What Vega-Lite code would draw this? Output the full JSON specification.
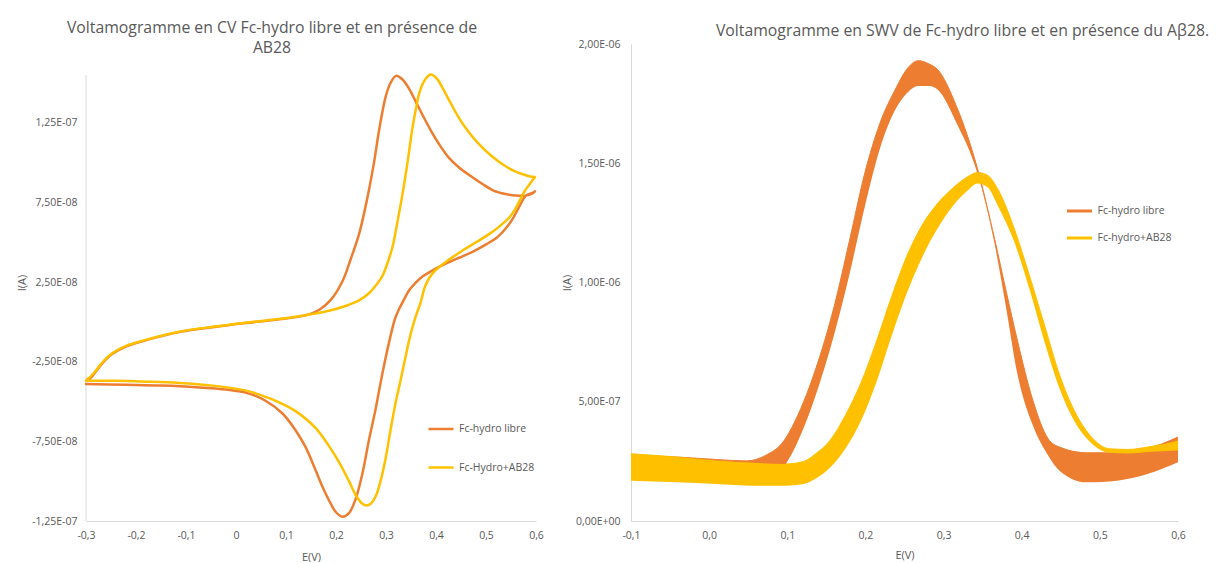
{
  "$schema": "https://vega.github.io/schema/vega-lite/v6.json",
  "background": "white",
  "padding": {"left": 16, "top": 19, "right": 0, "bottom": 0},
  "spacing": 17,
  "config": {
    "view": {"stroke": null},
    "font": "Open Sans",
    "axis": {"grid": false, "ticks": false, "domainColor": "#d9d9d9", "labelColor": "#595959", "labelFontSize": 10.5, "titleColor": "#595959", "titleFontSize": 11, "titleFontWeight": "normal", "labelFont": "Open Sans", "titleFont": "Open Sans", "labelFlush": false},
    "title": {"font": "Open Sans", "fontSize": 15.8, "fontWeight": "normal", "color": "#595959"}
  },
  "resolve": {"scale": {"color": "independent", "stroke": "independent", "fill": "independent", "x": "independent", "y": "independent"}, "legend": {"color": "independent", "stroke": "independent"}},
  "hconcat": [
    {
      "width": 450,
      "height": 477,
      "title": {"text": ["Voltamogramme en CV Fc-hydro libre et en présence de", "AB28"], "offset": -12.5, "dx": -39, "lineHeight": 20},
      "layer": [
        {
          "data": {"values": [{"E": -0.3, "I": -1.25e-7, "I2": 1.55e-7}]},
          "mark": {"type": "rule", "color": "#d9d9d9", "strokeWidth": 1},
          "encoding": {
            "x": {"field": "E", "type": "quantitative", "title": "E(V)", "scale": {"domain": [-0.3, 0.6], "nice": false, "zero": false}},
            "y": {"field": "I", "type": "quantitative", "title": "I(A)", "scale": {"domain": [-1.25e-7, 1.745e-7], "nice": false, "zero": false}},
            "y2": {"field": "I2"}
          }
        },
        {
          "data": {"values": [
            {"s":"Fc-hydro libre","k":1,"E":-0.298,"I":-3.7e-8},
            {"s":"Fc-hydro libre","k":2,"E":-0.29,"I":-3.5e-8},
            {"s":"Fc-hydro libre","k":3,"E":-0.28,"I":-3.1e-8},
            {"s":"Fc-hydro libre","k":4,"E":-0.27,"I":-2.7e-8},
            {"s":"Fc-hydro libre","k":5,"E":-0.26,"I":-2.35e-8},
            {"s":"Fc-hydro libre","k":6,"E":-0.247,"I":-2.0e-8},
            {"s":"Fc-hydro libre","k":7,"E":-0.22,"I":-1.55e-8},
            {"s":"Fc-hydro libre","k":8,"E":-0.181,"I":-1.16e-8},
            {"s":"Fc-hydro libre","k":9,"E":-0.114,"I":-6.4e-9},
            {"s":"Fc-hydro libre","k":10,"E":-0.047,"I":-3.3e-9},
            {"s":"Fc-hydro libre","k":11,"E":0.019,"I":-7e-10},
            {"s":"Fc-hydro libre","k":12,"E":0.086,"I":1.6e-9},
            {"s":"Fc-hydro libre","k":13,"E":0.139,"I":4.1e-9},
            {"s":"Fc-hydro libre","k":14,"E":0.166,"I":7.5e-9},
            {"s":"Fc-hydro libre","k":15,"E":0.19,"I":1.4e-8},
            {"s":"Fc-hydro libre","k":16,"E":0.213,"I":2.55e-8},
            {"s":"Fc-hydro libre","k":17,"E":0.23,"I":4.0e-8},
            {"s":"Fc-hydro libre","k":18,"E":0.246,"I":5.5e-8},
            {"s":"Fc-hydro libre","k":19,"E":0.256,"I":6.8e-8},
            {"s":"Fc-hydro libre","k":20,"E":0.266,"I":8.3e-8},
            {"s":"Fc-hydro libre","k":21,"E":0.276,"I":1.0e-7},
            {"s":"Fc-hydro libre","k":22,"E":0.286,"I":1.2e-7},
            {"s":"Fc-hydro libre","k":23,"E":0.299,"I":1.41e-7},
            {"s":"Fc-hydro libre","k":24,"E":0.309,"I":1.5e-7},
            {"s":"Fc-hydro libre","k":25,"E":0.32,"I":1.545e-7},
            {"s":"Fc-hydro libre","k":26,"E":0.332,"I":1.525e-7},
            {"s":"Fc-hydro libre","k":27,"E":0.346,"I":1.465e-7},
            {"s":"Fc-hydro libre","k":28,"E":0.36,"I":1.38e-7},
            {"s":"Fc-hydro libre","k":29,"E":0.373,"I":1.3e-7},
            {"s":"Fc-hydro libre","k":30,"E":0.39,"I":1.2e-7},
            {"s":"Fc-hydro libre","k":31,"E":0.406,"I":1.117e-7},
            {"s":"Fc-hydro libre","k":32,"E":0.426,"I":1.03e-7},
            {"s":"Fc-hydro libre","k":33,"E":0.446,"I":9.7e-8},
            {"s":"Fc-hydro libre","k":34,"E":0.47,"I":9.15e-8},
            {"s":"Fc-hydro libre","k":35,"E":0.493,"I":8.66e-8},
            {"s":"Fc-hydro libre","k":36,"E":0.515,"I":8.25e-8},
            {"s":"Fc-hydro libre","k":37,"E":0.539,"I":8.03e-8},
            {"s":"Fc-hydro libre","k":38,"E":0.56,"I":7.93e-8},
            {"s":"Fc-hydro libre","k":39,"E":0.579,"I":7.93e-8},
            {"s":"Fc-hydro libre","k":40,"E":0.592,"I":8.05e-8},
            {"s":"Fc-hydro libre","k":41,"E":0.598,"I":8.2e-8},
            {"s":"Fc-hydro libre","k":42,"E":0.593,"I":8.1e-8},
            {"s":"Fc-hydro libre","k":43,"E":0.579,"I":7.9e-8},
            {"s":"Fc-hydro libre","k":44,"E":0.566,"I":7.2e-8},
            {"s":"Fc-hydro libre","k":45,"E":0.553,"I":6.45e-8},
            {"s":"Fc-hydro libre","k":46,"E":0.539,"I":5.85e-8},
            {"s":"Fc-hydro libre","k":47,"E":0.52,"I":5.25e-8},
            {"s":"Fc-hydro libre","k":48,"E":0.499,"I":4.85e-8},
            {"s":"Fc-hydro libre","k":49,"E":0.473,"I":4.4e-8},
            {"s":"Fc-hydro libre","k":50,"E":0.446,"I":4.03e-8},
            {"s":"Fc-hydro libre","k":51,"E":0.426,"I":3.75e-8},
            {"s":"Fc-hydro libre","k":52,"E":0.406,"I":3.45e-8},
            {"s":"Fc-hydro libre","k":53,"E":0.39,"I":3.18e-8},
            {"s":"Fc-hydro libre","k":54,"E":0.373,"I":2.85e-8},
            {"s":"Fc-hydro libre","k":55,"E":0.359,"I":2.45e-8},
            {"s":"Fc-hydro libre","k":56,"E":0.346,"I":1.97e-8},
            {"s":"Fc-hydro libre","k":57,"E":0.336,"I":1.4e-8},
            {"s":"Fc-hydro libre","k":58,"E":0.326,"I":8.0e-9},
            {"s":"Fc-hydro libre","k":59,"E":0.318,"I":2.0e-9},
            {"s":"Fc-hydro libre","k":60,"E":0.306,"I":-1.3e-8},
            {"s":"Fc-hydro libre","k":61,"E":0.293,"I":-3.2e-8},
            {"s":"Fc-hydro libre","k":62,"E":0.279,"I":-5.5e-8},
            {"s":"Fc-hydro libre","k":63,"E":0.266,"I":-7.4e-8},
            {"s":"Fc-hydro libre","k":64,"E":0.253,"I":-9.5e-8},
            {"s":"Fc-hydro libre","k":65,"E":0.239,"I":-1.115e-7},
            {"s":"Fc-hydro libre","k":66,"E":0.226,"I":-1.2e-7},
            {"s":"Fc-hydro libre","k":67,"E":0.213,"I":-1.223e-7},
            {"s":"Fc-hydro libre","k":68,"E":0.2,"I":-1.195e-7},
            {"s":"Fc-hydro libre","k":69,"E":0.186,"I":-1.12e-7},
            {"s":"Fc-hydro libre","k":70,"E":0.173,"I":-1.035e-7},
            {"s":"Fc-hydro libre","k":71,"E":0.159,"I":-9.3e-8},
            {"s":"Fc-hydro libre","k":72,"E":0.139,"I":-7.85e-8},
            {"s":"Fc-hydro libre","k":73,"E":0.119,"I":-6.8e-8},
            {"s":"Fc-hydro libre","k":74,"E":0.093,"I":-5.75e-8},
            {"s":"Fc-hydro libre","k":75,"E":0.059,"I":-4.95e-8},
            {"s":"Fc-hydro libre","k":76,"E":0.026,"I":-4.5e-8},
            {"s":"Fc-hydro libre","k":77,"E":-0.02,"I":-4.25e-8},
            {"s":"Fc-hydro libre","k":78,"E":-0.08,"I":-4.1e-8},
            {"s":"Fc-hydro libre","k":79,"E":-0.15,"I":-4.0e-8},
            {"s":"Fc-hydro libre","k":80,"E":-0.22,"I":-3.95e-8},
            {"s":"Fc-hydro libre","k":81,"E":-0.3,"I":-3.9e-8},
            {"s":"Fc-Hydro+AB28","k":1,"E":-0.298,"I":-3.6e-8},
            {"s":"Fc-Hydro+AB28","k":2,"E":-0.29,"I":-3.4e-8},
            {"s":"Fc-Hydro+AB28","k":3,"E":-0.28,"I":-3.05e-8},
            {"s":"Fc-Hydro+AB28","k":4,"E":-0.27,"I":-2.65e-8},
            {"s":"Fc-Hydro+AB28","k":5,"E":-0.26,"I":-2.3e-8},
            {"s":"Fc-Hydro+AB28","k":6,"E":-0.247,"I":-1.95e-8},
            {"s":"Fc-Hydro+AB28","k":7,"E":-0.22,"I":-1.5e-8},
            {"s":"Fc-Hydro+AB28","k":8,"E":-0.181,"I":-1.13e-8},
            {"s":"Fc-Hydro+AB28","k":9,"E":-0.114,"I":-6.2e-9},
            {"s":"Fc-Hydro+AB28","k":10,"E":-0.047,"I":-3.1e-9},
            {"s":"Fc-Hydro+AB28","k":11,"E":0.019,"I":-5e-10},
            {"s":"Fc-Hydro+AB28","k":12,"E":0.086,"I":1.8e-9},
            {"s":"Fc-Hydro+AB28","k":13,"E":0.12,"I":3.3e-9},
            {"s":"Fc-Hydro+AB28","k":14,"E":0.153,"I":5.0e-9},
            {"s":"Fc-Hydro+AB28","k":15,"E":0.186,"I":7.0e-9},
            {"s":"Fc-Hydro+AB28","k":16,"E":0.219,"I":1.0e-8},
            {"s":"Fc-Hydro+AB28","k":17,"E":0.246,"I":1.35e-8},
            {"s":"Fc-Hydro+AB28","k":18,"E":0.266,"I":1.8e-8},
            {"s":"Fc-Hydro+AB28","k":19,"E":0.28,"I":2.3e-8},
            {"s":"Fc-Hydro+AB28","k":20,"E":0.293,"I":2.9e-8},
            {"s":"Fc-Hydro+AB28","k":21,"E":0.303,"I":3.7e-8},
            {"s":"Fc-Hydro+AB28","k":22,"E":0.313,"I":4.7e-8},
            {"s":"Fc-Hydro+AB28","k":23,"E":0.323,"I":6.3e-8},
            {"s":"Fc-Hydro+AB28","k":24,"E":0.333,"I":8.03e-8},
            {"s":"Fc-Hydro+AB28","k":25,"E":0.343,"I":1.0e-7},
            {"s":"Fc-Hydro+AB28","k":26,"E":0.353,"I":1.22e-7},
            {"s":"Fc-Hydro+AB28","k":27,"E":0.36,"I":1.34e-7},
            {"s":"Fc-Hydro+AB28","k":28,"E":0.366,"I":1.43e-7},
            {"s":"Fc-Hydro+AB28","k":29,"E":0.376,"I":1.51e-7},
            {"s":"Fc-Hydro+AB28","k":30,"E":0.389,"I":1.553e-7},
            {"s":"Fc-Hydro+AB28","k":31,"E":0.401,"I":1.53e-7},
            {"s":"Fc-Hydro+AB28","k":32,"E":0.413,"I":1.47e-7},
            {"s":"Fc-Hydro+AB28","k":33,"E":0.43,"I":1.37e-7},
            {"s":"Fc-Hydro+AB28","k":34,"E":0.446,"I":1.28e-7},
            {"s":"Fc-Hydro+AB28","k":35,"E":0.466,"I":1.19e-7},
            {"s":"Fc-Hydro+AB28","k":36,"E":0.486,"I":1.117e-7},
            {"s":"Fc-Hydro+AB28","k":37,"E":0.51,"I":1.045e-7},
            {"s":"Fc-Hydro+AB28","k":38,"E":0.533,"I":9.9e-8},
            {"s":"Fc-Hydro+AB28","k":39,"E":0.555,"I":9.5e-8},
            {"s":"Fc-Hydro+AB28","k":40,"E":0.573,"I":9.28e-8},
            {"s":"Fc-Hydro+AB28","k":41,"E":0.588,"I":9.13e-8},
            {"s":"Fc-Hydro+AB28","k":42,"E":0.598,"I":9.1e-8},
            {"s":"Fc-Hydro+AB28","k":43,"E":0.593,"I":8.9e-8},
            {"s":"Fc-Hydro+AB28","k":44,"E":0.586,"I":8.6e-8},
            {"s":"Fc-Hydro+AB28","k":45,"E":0.577,"I":8.2e-8},
            {"s":"Fc-Hydro+AB28","k":46,"E":0.567,"I":7.6e-8},
            {"s":"Fc-Hydro+AB28","k":47,"E":0.557,"I":7.0e-8},
            {"s":"Fc-Hydro+AB28","k":48,"E":0.547,"I":6.57e-8},
            {"s":"Fc-Hydro+AB28","k":49,"E":0.527,"I":6.0e-8},
            {"s":"Fc-Hydro+AB28","k":50,"E":0.507,"I":5.53e-8},
            {"s":"Fc-Hydro+AB28","k":51,"E":0.48,"I":5.0e-8},
            {"s":"Fc-Hydro+AB28","k":52,"E":0.453,"I":4.48e-8},
            {"s":"Fc-Hydro+AB28","k":53,"E":0.419,"I":3.75e-8},
            {"s":"Fc-Hydro+AB28","k":54,"E":0.393,"I":3.05e-8},
            {"s":"Fc-Hydro+AB28","k":55,"E":0.379,"I":2.3e-8},
            {"s":"Fc-Hydro+AB28","k":56,"E":0.369,"I":1.2e-8},
            {"s":"Fc-Hydro+AB28","k":57,"E":0.359,"I":3.0e-9},
            {"s":"Fc-Hydro+AB28","k":58,"E":0.349,"I":-8.0e-9},
            {"s":"Fc-Hydro+AB28","k":59,"E":0.339,"I":-2.2e-8},
            {"s":"Fc-Hydro+AB28","k":60,"E":0.329,"I":-3.7e-8},
            {"s":"Fc-Hydro+AB28","k":61,"E":0.319,"I":-5.1e-8},
            {"s":"Fc-Hydro+AB28","k":62,"E":0.309,"I":-6.8e-8},
            {"s":"Fc-Hydro+AB28","k":63,"E":0.299,"I":-8.6e-8},
            {"s":"Fc-Hydro+AB28","k":64,"E":0.289,"I":-1.0e-7},
            {"s":"Fc-Hydro+AB28","k":65,"E":0.28,"I":-1.09e-7},
            {"s":"Fc-Hydro+AB28","k":66,"E":0.27,"I":-1.14e-7},
            {"s":"Fc-Hydro+AB28","k":67,"E":0.261,"I":-1.152e-7},
            {"s":"Fc-Hydro+AB28","k":68,"E":0.252,"I":-1.14e-7},
            {"s":"Fc-Hydro+AB28","k":69,"E":0.24,"I":-1.09e-7},
            {"s":"Fc-Hydro+AB28","k":70,"E":0.226,"I":-1.0e-7},
            {"s":"Fc-Hydro+AB28","k":71,"E":0.206,"I":-8.8e-8},
            {"s":"Fc-Hydro+AB28","k":72,"E":0.186,"I":-7.8e-8},
            {"s":"Fc-Hydro+AB28","k":73,"E":0.159,"I":-6.65e-8},
            {"s":"Fc-Hydro+AB28","k":74,"E":0.119,"I":-5.6e-8},
            {"s":"Fc-Hydro+AB28","k":75,"E":0.086,"I":-5.05e-8},
            {"s":"Fc-Hydro+AB28","k":76,"E":0.05,"I":-4.6e-8},
            {"s":"Fc-Hydro+AB28","k":77,"E":0.019,"I":-4.3e-8},
            {"s":"Fc-Hydro+AB28","k":78,"E":-0.047,"I":-4.0e-8},
            {"s":"Fc-Hydro+AB28","k":79,"E":-0.114,"I":-3.83e-8},
            {"s":"Fc-Hydro+AB28","k":80,"E":-0.181,"I":-3.75e-8},
            {"s":"Fc-Hydro+AB28","k":81,"E":-0.247,"I":-3.7e-8},
            {"s":"Fc-Hydro+AB28","k":82,"E":-0.3,"I":-3.7e-8}
          ]},
          "mark": {"type": "line", "strokeWidth": 2.5, "strokeCap": "round", "strokeJoin": "round", "interpolate": "catmull-rom"},
          "encoding": {
            "x": {"field": "E", "type": "quantitative", "title": "E(V)", "scale": {"domain": [-0.3, 0.6], "nice": false, "zero": false},
                  "axis": {"values": [-0.3, -0.2, -0.1, 0, 0.1, 0.2, 0.3, 0.4, 0.5, 0.6], "labelExpr": "datum.value == 0 ? '0' : replace(replace(format(datum.value, '.1f'), '.', ','), '−', '-')", "labelPadding": 9, "titlePadding": 10.5}},
            "y": {"field": "I", "type": "quantitative", "title": "I(A)", "scale": {"domain": [-1.25e-7, 1.745e-7], "nice": false, "zero": false},
                  "axis": {"domain": false, "values": [-1.25e-7, -7.5e-8, -2.5e-8, 2.5e-8, 7.5e-8, 1.25e-7], "labelExpr": "datum.value > 1e-7 ? '1,25E-07' : datum.value > 5e-8 ? '7,50E-08' : datum.value > 0 ? '2,50E-08' : datum.value > -5e-8 ? '-2,50E-08' : datum.value > -1e-7 ? '-7,50E-08' : '-1,25E-07'", "labelPadding": 9, "titlePadding": 4}},
            "order": {"field": "k", "type": "quantitative"},
            "color": {"field": "s", "type": "nominal", "scale": {"domain": ["Fc-hydro libre", "Fc-Hydro+AB28"], "range": ["#ED7D31", "#FFC000"]},
                      "legend": {"orient": "none", "legendX": 341, "legendY": 371, "title": null, "symbolType": "stroke", "symbolSize": 625, "symbolStrokeWidth": 2.5, "labelFontSize": 10.5, "labelColor": "#595959", "labelFont": "Open Sans", "rowPadding": 18.5, "labelOffset": 4, "padding": 0}}
          }
        }
      ]
    },
    {
      "width": 547,
      "height": 477,
      "title": {"text": "Voltamogramme en SWV de Fc-hydro libre et en présence du Aβ28.", "offset": -0.5, "dx": 58},
      "data": {"values": [
        {"s":"Fc-hydro libre","E":-0.1,"lo":1.9e-7,"hi":2.75e-7},
        {"s":"Fc-hydro libre","E":-0.0404,"lo":1.83e-7,"hi":2.68e-7},
        {"s":"Fc-hydro libre","E":0.0085,"lo":1.76e-7,"hi":2.58e-7},
        {"s":"Fc-hydro libre","E":0.0476,"lo":1.73e-7,"hi":2.52e-7},
        {"s":"Fc-hydro libre","E":0.0721,"lo":1.8e-7,"hi":2.75e-7},
        {"s":"Fc-hydro libre","E":0.0965,"lo":2.32e-7,"hi":3.4e-7},
        {"s":"Fc-hydro libre","E":0.1063,"lo":2.85e-7,"hi":3.95e-7},
        {"s":"Fc-hydro libre","E":0.1209,"lo":3.9e-7,"hi":5.0e-7},
        {"s":"Fc-hydro libre","E":0.1356,"lo":5.2e-7,"hi":6.3e-7},
        {"s":"Fc-hydro libre","E":0.16,"lo":7.82e-7,"hi":9.0e-7},
        {"s":"Fc-hydro libre","E":0.1796,"lo":1.035e-6,"hi":1.176e-6},
        {"s":"Fc-hydro libre","E":0.1991,"lo":1.317e-6,"hi":1.458e-6},
        {"s":"Fc-hydro libre","E":0.2187,"lo":1.563e-6,"hi":1.669e-6},
        {"s":"Fc-hydro libre","E":0.2383,"lo":1.725e-6,"hi":1.81e-6},
        {"s":"Fc-hydro libre","E":0.2529,"lo":1.793e-6,"hi":1.894e-6},
        {"s":"Fc-hydro libre","E":0.2676,"lo":1.824e-6,"hi":1.93e-6},
        {"s":"Fc-hydro libre","E":0.2822,"lo":1.824e-6,"hi":1.915e-6},
        {"s":"Fc-hydro libre","E":0.292,"lo":1.81e-6,"hi":1.894e-6},
        {"s":"Fc-hydro libre","E":0.3165,"lo":1.669e-6,"hi":1.739e-6},
        {"s":"Fc-hydro libre","E":0.3433,"lo":1.458e-6,"hi":1.479e-6},
        {"s":"Fc-hydro libre","E":0.3653,"lo":1.162e-6,"hi":1.183e-6},
        {"s":"Fc-hydro libre","E":0.38,"lo":8.94e-7,"hi":9.65e-7},
        {"s":"Fc-hydro libre","E":0.3947,"lo":6.13e-7,"hi":7.54e-7},
        {"s":"Fc-hydro libre","E":0.4142,"lo":4.01e-7,"hi":5.07e-7},
        {"s":"Fc-hydro libre","E":0.4338,"lo":2.75e-7,"hi":3.45e-7},
        {"s":"Fc-hydro libre","E":0.4484,"lo":2.11e-7,"hi":3.1e-7},
        {"s":"Fc-hydro libre","E":0.4827,"lo":1.62e-7,"hi":2.86e-7},
        {"s":"Fc-hydro libre","E":0.5218,"lo":1.69e-7,"hi":2.86e-7},
        {"s":"Fc-hydro libre","E":0.5609,"lo":1.97e-7,"hi":3.03e-7},
        {"s":"Fc-hydro libre","E":0.6,"lo":2.46e-7,"hi":3.52e-7},
        {"s":"Fc-hydro+AB28","E":-0.1,"lo":1.69e-7,"hi":2.82e-7},
        {"s":"Fc-hydro+AB28","E":-0.0404,"lo":1.62e-7,"hi":2.68e-7},
        {"s":"Fc-hydro+AB28","E":0.0085,"lo":1.55e-7,"hi":2.54e-7},
        {"s":"Fc-hydro+AB28","E":0.0574,"lo":1.48e-7,"hi":2.44e-7},
        {"s":"Fc-hydro+AB28","E":0.0965,"lo":1.48e-7,"hi":2.39e-7},
        {"s":"Fc-hydro+AB28","E":0.1209,"lo":1.55e-7,"hi":2.5e-7},
        {"s":"Fc-hydro+AB28","E":0.1356,"lo":1.76e-7,"hi":2.8e-7},
        {"s":"Fc-hydro+AB28","E":0.1552,"lo":2.25e-7,"hi":3.4e-7},
        {"s":"Fc-hydro+AB28","E":0.1747,"lo":3.05e-7,"hi":4.45e-7},
        {"s":"Fc-hydro+AB28","E":0.1943,"lo":4.2e-7,"hi":5.8e-7},
        {"s":"Fc-hydro+AB28","E":0.2138,"lo":5.8e-7,"hi":7.5e-7},
        {"s":"Fc-hydro+AB28","E":0.2334,"lo":7.75e-7,"hi":9.4e-7},
        {"s":"Fc-hydro+AB28","E":0.2529,"lo":9.55e-7,"hi":1.11e-6},
        {"s":"Fc-hydro+AB28","E":0.2725,"lo":1.105e-6,"hi":1.24e-6},
        {"s":"Fc-hydro+AB28","E":0.292,"lo":1.225e-6,"hi":1.33e-6},
        {"s":"Fc-hydro+AB28","E":0.3116,"lo":1.32e-6,"hi":1.395e-6},
        {"s":"Fc-hydro+AB28","E":0.3311,"lo":1.387e-6,"hi":1.444e-6},
        {"s":"Fc-hydro+AB28","E":0.3433,"lo":1.415e-6,"hi":1.461e-6},
        {"s":"Fc-hydro+AB28","E":0.3556,"lo":1.401e-6,"hi":1.451e-6},
        {"s":"Fc-hydro+AB28","E":0.3702,"lo":1.317e-6,"hi":1.387e-6},
        {"s":"Fc-hydro+AB28","E":0.3898,"lo":1.176e-6,"hi":1.232e-6},
        {"s":"Fc-hydro+AB28","E":0.4093,"lo":9.79e-7,"hi":1.035e-6},
        {"s":"Fc-hydro+AB28","E":0.4289,"lo":7.54e-7,"hi":8.24e-7},
        {"s":"Fc-hydro+AB28","E":0.4484,"lo":5.56e-7,"hi":6.13e-7},
        {"s":"Fc-hydro+AB28","E":0.468,"lo":4.15e-7,"hi":4.58e-7},
        {"s":"Fc-hydro+AB28","E":0.4875,"lo":3.31e-7,"hi":3.59e-7},
        {"s":"Fc-hydro+AB28","E":0.512,"lo":2.86e-7,"hi":3.03e-7},
        {"s":"Fc-hydro+AB28","E":0.5364,"lo":2.83e-7,"hi":3.0e-7},
        {"s":"Fc-hydro+AB28","E":0.5609,"lo":2.89e-7,"hi":3.1e-7},
        {"s":"Fc-hydro+AB28","E":0.6,"lo":2.96e-7,"hi":3.38e-7}
      ]},
      "encoding": {
        "x": {"field": "E", "type": "quantitative", "title": "E(V)", "scale": {"domain": [-0.1, 0.6], "nice": false, "zero": false},
              "axis": {"values": [-0.1, 0, 0.1, 0.2, 0.3, 0.4, 0.5, 0.6], "labelExpr": "replace(replace(format(datum.value, '.1f'), '.', ','), '−', '-')", "labelPadding": 9, "titlePadding": 9}},
        "y": {"field": "hi", "type": "quantitative", "title": "I(A)", "scale": {"domain": [0, 2e-6], "nice": false, "zero": false},
              "axis": {"values": [0, 5e-7, 1e-6, 1.5e-6, 2e-6], "labelExpr": "datum.value > 1.75e-6 ? '2,00E-06' : datum.value > 1.25e-6 ? '1,50E-06' : datum.value > 7.5e-7 ? '1,00E-06' : datum.value > 2.5e-7 ? '5,00E-07' : '0,00E+00'", "labelPadding": 11, "titlePadding": 2.5}}
      },
      "layer": [
        {
          "mark": {"type": "line", "strokeWidth": 1, "interpolate": "monotone"},
          "encoding": {
            "stroke": {"field": "s", "type": "nominal", "scale": {"domain": ["Fc-hydro libre", "Fc-hydro+AB28"], "range": ["#ED7D31", "#FFC000"]},
                       "legend": {"orient": "none", "legendX": 434.5, "legendY": 153, "title": null, "symbolType": "stroke", "symbolSize": 625, "symbolStrokeWidth": 3, "labelFontSize": 10.5, "labelColor": "#595959", "labelFont": "Open Sans", "rowPadding": 7, "labelOffset": 4, "padding": 0}}
          }
        },
        {
          "transform": [{"filter": "datum.s == 'Fc-hydro libre'"}],
          "mark": {"type": "area", "color": "#ED7D31", "opacity": 1, "interpolate": "monotone"},
          "encoding": {"y2": {"field": "lo"}}
        },
        {
          "transform": [{"filter": "datum.s == 'Fc-hydro+AB28'"}],
          "mark": {"type": "area", "color": "#FFC000", "opacity": 1, "interpolate": "monotone"},
          "encoding": {"y2": {"field": "lo"}}
        }
      ]
    }
  ]
}
